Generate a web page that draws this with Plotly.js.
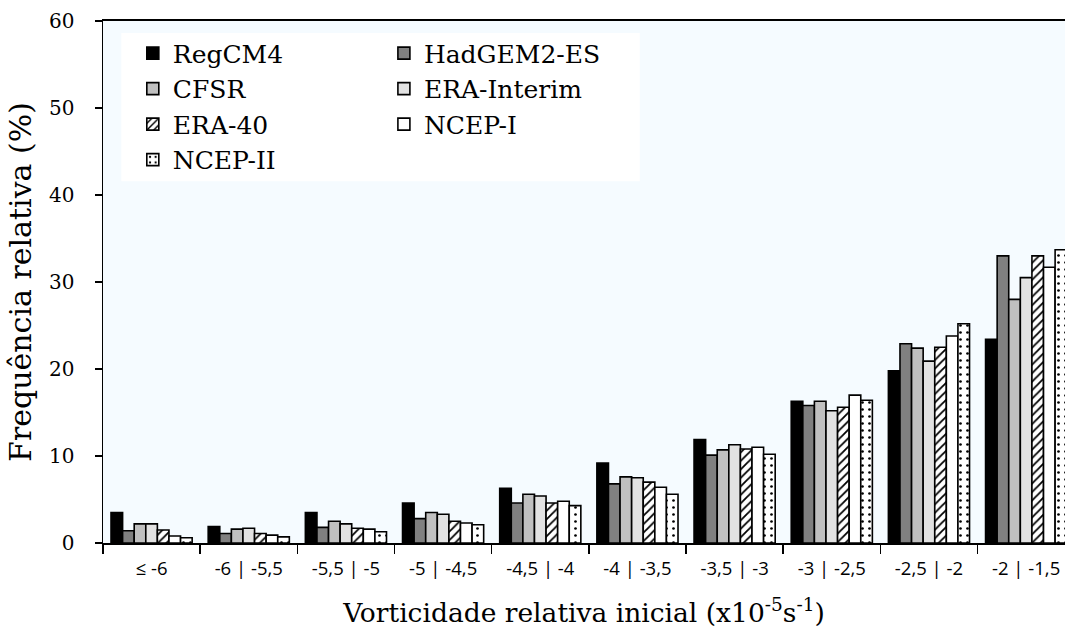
<!DOCTYPE html>
<html>
<head>
<meta charset="utf-8">
<script src="https://cdn.plot.ly/plotly-3.0.1.min.js"></script>
<style>
html,body{margin:0;padding:0;background:#fff;}
#chart{width:1065px;height:630px;}
</style>
</head>
<body>
<div id="chart"></div>
<script>
const categories = ["≤ -6", "-6 | -5,5", "-5,5 | -5", "-5 | -4,5", "-4,5 | -4", "-4 | -3,5", "-3,5 | -3", "-3 | -2,5", "-2,5 | -2", "-2 | -1,5"];

const regcm4     = [3.5, 1.9, 3.5, 4.6, 6.3, 9.2, 11.9, 16.3, 19.8, 23.4];
const hadgem2es  = [1.4, 1.1, 1.8, 2.8, 4.6, 6.8, 10.1, 15.8, 22.9, 33.0];
const cfsr       = [2.2, 1.6, 2.5, 3.5, 5.6, 7.6, 10.7, 16.3, 22.4, 28.0];
const erainterim = [2.2, 1.7, 2.2, 3.3, 5.4, 7.5, 11.3, 15.2, 20.9, 30.5];
const era40      = [1.5, 1.1, 1.7, 2.5, 4.6, 7.0, 10.8, 15.6, 22.5, 33.0];
const ncep1      = [0.8, 0.9, 1.6, 2.3, 4.8, 6.4, 11.0, 17.0, 23.8, 31.7];
const ncep2      = [0.6, 0.7, 1.3, 2.1, 4.3, 5.6, 10.2, 16.4, 25.2, 33.7];

const seriesNames = ["RegCM4", "HadGEM2-ES", "CFSR", "ERA-Interim", "ERA-40", "NCEP-I", "NCEP-II"];

const serif = "DejaVu Serif, serif";
const sans = "Open Sans, sans-serif";

function bar(name, y, color, pattern, legend) {
  const marker = {color: color, line: {color: "#000", width: 1.6}};
  if (pattern) marker.pattern = pattern;
  return {type: "bar", name: name, x: categories, y: y, marker: marker, legend: legend, hoverinfo: "y+name"};
}

const traces = [
  bar(seriesNames[0], regcm4, "#000000", null, "legend"),
  bar(seriesNames[1], hadgem2es, "#808080", null, "legend2"),
  bar(seriesNames[2], cfsr, "#c0c0c0", null, "legend"),
  bar(seriesNames[3], erainterim, "#e2e2e2", null, "legend2"),
  bar(seriesNames[4], era40, "#ffffff", {shape: "/", fgcolor: "#000", bgcolor: "#ffffff", size: 6, solidity: 0.3}, "legend"),
  bar(seriesNames[5], ncep1, "#ffffff", null, "legend2"),
  bar(seriesNames[6], ncep2, "#ffffff", {shape: ".", fgcolor: "#000", bgcolor: "#ffffff", size: 7, solidity: 0.12}, "legend")
];

const legendCommon = {
  bgcolor: "rgba(0,0,0,0)", borderwidth: 0,
  font: {family: serif, size: 25, color: "#000"},
  yanchor: "top", xanchor: "left", tracegroupgap: 0, itemclick: false
};

const layout = {
  width: 1065, height: 630,
  margin: {l: 103, r: 0, t: 21, b: 87, pad: 0},
  paper_bgcolor: "#ffffff",
  plot_bgcolor: "#f5fbff",
  barmode: "group",
  bargap: 0.165,
  bargroupgap: 0,
  showlegend: true,
  legend: Object.assign({}, legendCommon, {x: 0.031, y: 0.982}),
  legend2: Object.assign({}, legendCommon, {x: 0.292, y: 0.982}),
  shapes: [{type: "rect", xref: "paper", yref: "paper", x0: 0.019, x1: 0.558, y0: 0.693, y1: 0.977,
            fillcolor: "#ffffff", line: {width: 0}, layer: "below"}],
  xaxis: {
    range: [-0.5, 9.4],
    showline: true, linecolor: "#000", linewidth: 2, mirror: true,
    ticks: "outside", ticklen: 9, tickwidth: 1.5, tickcolor: "#000",
    tickson: "boundaries",
    showgrid: false, zeroline: false,
    tickfont: {family: sans, size: 18.5, color: "#000"},
    ticklabelstandoff: 8,
    title: {text: "Vorticidade relativa inicial (x10<sup>-5</sup>s<sup>-1</sup>)", font: {family: serif, size: 26.5, color: "#000"}, standoff: 24},
    automargin: false
  },
  yaxis: {
    range: [0, 60], dtick: 10, tick0: 0,
    showline: true, linecolor: "#000", linewidth: 1.5,
    ticks: "outside", ticklen: 7, tickwidth: 1.5, tickcolor: "#000",
    showgrid: false, zeroline: false,
    tickfont: {family: serif, size: 20, color: "#000"},
    ticklabelstandoff: 16,
    title: {text: "Frequência relativa (%)", font: {family: serif, size: 30, color: "#000"}, standoff: 8},
    automargin: false
  }
};

Plotly.newPlot("chart", traces, layout, {displayModeBar: false, staticPlot: true});
</script>
</body>
</html>
